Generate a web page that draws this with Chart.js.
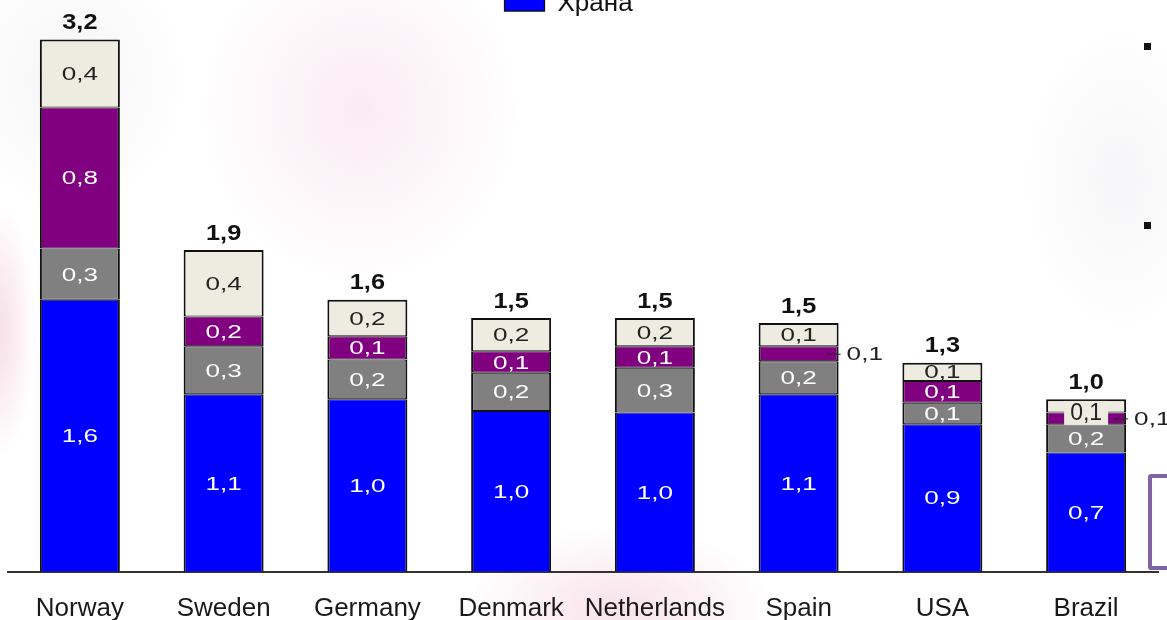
<!DOCTYPE html>
<html>
<head>
<meta charset="utf-8">
<script src="https://cdn.jsdelivr.net/npm/chart.js@4.4.0/dist/chart.umd.min.js"></script>
<style>
html, body { margin: 0; padding: 0; width: 1167px; height: 620px; overflow: hidden; }
body {
    position: relative;
    background:
        radial-gradient(ellipse 230px 250px at 360px 110px, rgba(246, 218, 231, 0.55), rgba(255,255,255,0) 70%),
        radial-gradient(ellipse 170px 190px at 70px 80px, rgba(236, 236, 240, 0.55), rgba(255,255,255,0) 70%),
        radial-gradient(ellipse 220px 120px at 620px 610px, rgba(242, 196, 212, 0.5), rgba(255,255,255,0) 70%),
        radial-gradient(ellipse 50px 180px at 0px 330px, rgba(244, 208, 222, 0.7), rgba(255,255,255,0) 70%),
        radial-gradient(ellipse 140px 220px at 1120px 180px, rgba(236, 236, 240, 0.5), rgba(255,255,255,0) 70%),
        #fff;
}
#wrap { position: absolute; left: 0; top: -19px; width: 1167px; height: 664px; }
.bullet { position: absolute; left: 1144px; width: 7px; height: 7px; background: #111; }
#frame { position: absolute; left: 1148px; top: 474px; width: 40px; height: 88px; border: 4px solid #8064a2; border-radius: 3px; background: #fff; }
</style>
</head>
<body>
<div class="bullet" style="top:43px"></div>
<div class="bullet" style="top:222px"></div>
<div id="frame"></div>
<div id="wrap"><canvas id="chart" width="1167" height="664"></canvas></div>
<script>
const countries = ["Norway", "Sweden", "Germany", "Denmark", "Netherlands", "Spain", "USA", "Brazil"];
const food = [1.64, 1.07, 1.04, 0.97, 0.96, 1.07, 0.89, 0.72];
const series2 = [0.31, 0.29, 0.24, 0.23, 0.27, 0.20, 0.13, 0.17];
const series3 = [0.85, 0.18, 0.14, 0.13, 0.13, 0.09, 0.13, 0.07];
const series4 = [0.41, 0.40, 0.22, 0.20, 0.17, 0.14, 0.11, 0.08];

const FONT = "'Liberation Sans', Arial, sans-serif";

function fmt(v) {
    return v.toFixed(1).replace(".", ",");
}

// draw text horizontally stretched, like the original slide font
function wideText(ctx, text, x, y, sx, align) {
    ctx.save();
    ctx.translate(x, y);
    ctx.scale(sx, 1);
    ctx.textAlign = align;
    ctx.fillText(text, 0, 0);
    ctx.restore();
}

const labelPlugin = {
    id: "segLabels",
    afterDatasetsDraw(chart) {
        const ctx = chart.ctx;
        ctx.save();
        ctx.textBaseline = "alphabetic";
        chart.data.datasets.forEach((ds, di) => {
            const meta = chart.getDatasetMeta(di);
            meta.data.forEach((bar, i) => {
                const top = Math.min(bar.y, bar.base);
                const bottom = Math.max(bar.y, bar.base);
                const h = bottom - top;
                const cy = (top + bottom) / 2;
                const text = fmt(ds.data[i]);
                if (h >= 17) {
                    ctx.font = "18px " + FONT;
                    ctx.fillStyle = di === 3 ? "#222" : "#fff";
                    wideText(ctx, text, bar.x, cy + 6.5, 1.45, "center");
                } else if (di === 3) {
                    ctx.fillStyle = "#eeece1";
                    ctx.fillRect(bar.x - 22, cy - 5, 44, 24);
                    ctx.font = "23px " + FONT;
                    ctx.fillStyle = "#222";
                    ctx.textAlign = "center";
                    ctx.fillText(text, bar.x, cy + 14);
                } else {
                    const right = bar.x + bar.width / 2;
                    ctx.strokeStyle = "#222";
                    ctx.lineWidth = 1;
                    ctx.beginPath();
                    ctx.moveTo(right - 12, cy + 0.5);
                    ctx.lineTo(right + 2, cy + 0.5);
                    ctx.stroke();
                    ctx.font = "18px " + FONT;
                    ctx.fillStyle = "#222";
                    wideText(ctx, text, right + 8, cy + 6.5, 1.45, "left");
                }
            });
        });
        // totals above each bar
        const topMeta = chart.getDatasetMeta(chart.data.datasets.length - 1);
        topMeta.data.forEach((bar, i) => {
            const total = food[i] + series2[i] + series3[i] + series4[i];
            ctx.font = "bold 22px " + FONT;
            ctx.fillStyle = "#111";
            wideText(ctx, fmt(total), bar.x, bar.y - 10.5, 1.15, "center");
        });
        ctx.restore();
    }
};

function border(top, bottom) {
    return { top: top, bottom: bottom, left: 2, right: 2 };
}

const common = {
    categoryPercentage: 0.5565,
    barPercentage: 1,
    borderColor: "#111",
    borderSkipped: false
};

new Chart(document.getElementById("chart"), {
    type: "bar",
    data: {
        labels: countries,
        datasets: [
            { label: "Храна", data: food, backgroundColor: "#0000ff", borderWidth: border(1, 0), ...common },
            { label: "Серија 2", data: series2, backgroundColor: "#808080", borderWidth: border(1, 1), ...common },
            { label: "Серија 3", data: series3, backgroundColor: "#800080", borderWidth: border(1, 1), ...common },
            { label: "Серија 4", data: series4, backgroundColor: "#eeece1", borderWidth: border(2, 1), ...common }
        ]
    },
    options: {
        responsive: false,
        animation: false,
        layout: { padding: { left: 8, right: 9, top: 0, bottom: 0 } },
        plugins: {
            tooltip: { enabled: false },
            legend: {
                position: "top",
                labels: {
                    filter: item => item.datasetIndex === 0,
                    generateLabels: chart => {
                        const items = Chart.defaults.plugins.legend.labels.generateLabels(chart);
                        // trailing spaces shift the centred item a little to the left
                        items.forEach(it => { it.text = it.text + "\u00a0\u00a0\u00a0\u00a0"; });
                        return items;
                    },
                    boxWidth: 40,
                    boxHeight: 14,
                    color: "#111",
                    font: { family: FONT, size: 26 }
                }
            }
        },
        scales: {
            x: {
                stacked: true,
                grid: { display: false, drawTicks: false },
                border: { display: true, color: "#333", width: 2 },
                ticks: {
                    color: "#1a1a1a",
                    font: { family: FONT, size: 26 },
                    padding: 21,
                    maxRotation: 0,
                    autoSkip: false
                }
            },
            y: { stacked: true, display: false, min: 0, max: 3.285 }
        }
    },
    plugins: [labelPlugin]
});
</script>
</body>
</html>
